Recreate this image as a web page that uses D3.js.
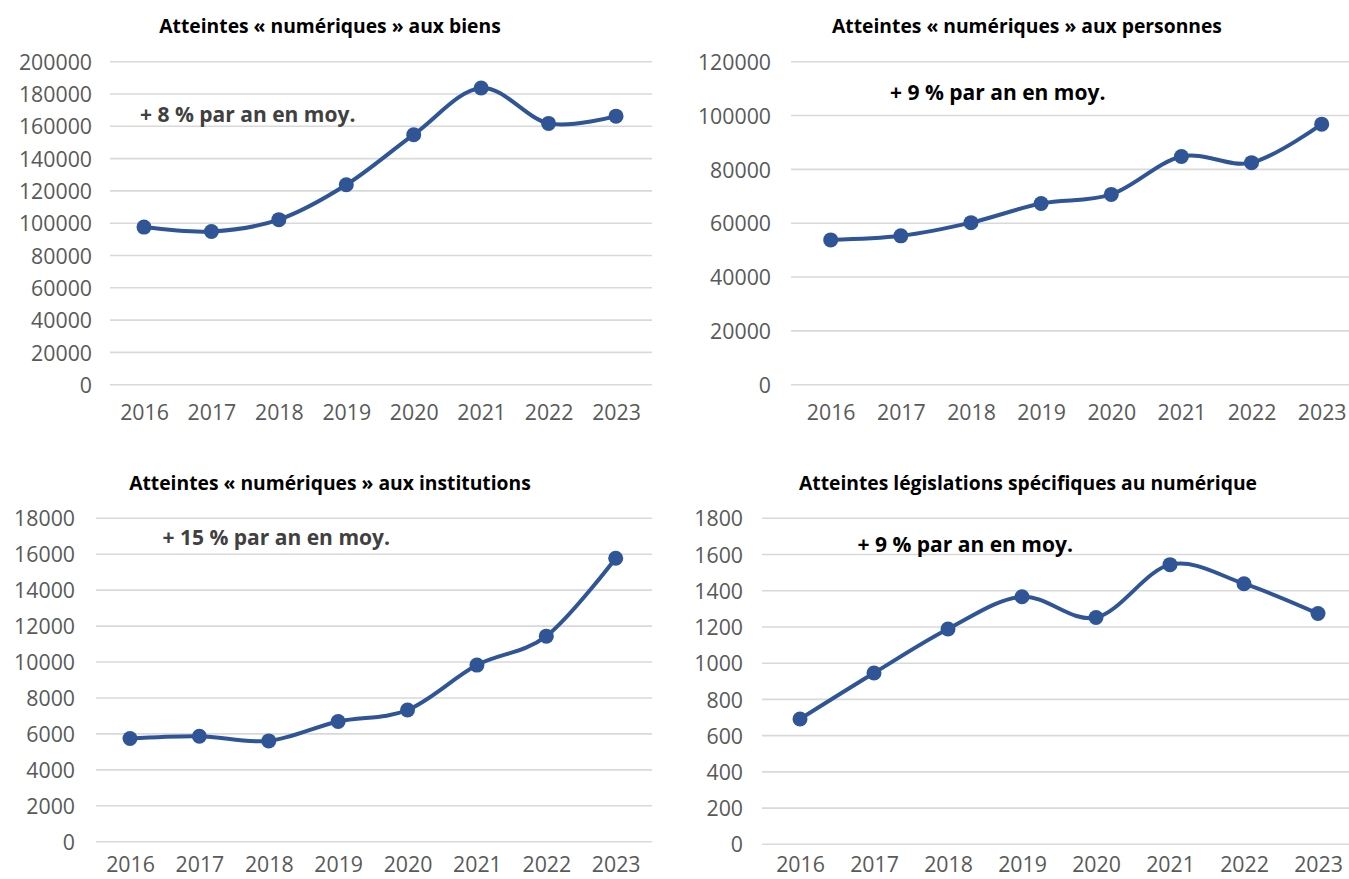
<!DOCTYPE html>
<html lang="fr">
<head>
<meta charset="utf-8">
<title>Atteintes numériques 2016-2023</title>
<script src="https://cdn.jsdelivr.net/npm/d3@7"></script>
<style>
  html, body { margin: 0; padding: 0; background: #ffffff; }
  svg { display: block; }
  .grid line { stroke: #d9d9d9; stroke-width: 1.6; }
  .tick-label { font-family: "Open Sans", sans-serif; font-size: 21.3px; fill: #595959; }
  .title { font-family: "Open Sans", sans-serif; font-weight: 700; font-size: 19.3px; fill: #000; }
  .note { font-family: "Open Sans", sans-serif; font-weight: 700; font-size: 21px; }
</style>
</head>
<body>
<svg id="chart" width="1349" height="879"></svg>
<script>
// Years shared by every panel
const years = ["2016", "2017", "2018", "2019", "2020", "2021", "2022", "2023"];

// Offences against property
const biensValues = [97600, 94900, 102200, 123800, 154800, 183700, 161800, 166300];
const biensTicks = [0, 20000, 40000, 60000, 80000, 100000, 120000, 140000, 160000, 180000, 200000];

// Offences against persons
const personnesValues = [53800, 55300, 60200, 67300, 70700, 84800, 82500, 96800];
const personnesTicks = [0, 20000, 40000, 60000, 80000, 100000, 120000];

// Offences against institutions
const institutionsValues = [5740, 5870, 5610, 6690, 7330, 9830, 11440, 15780];
const institutionsTicks = [0, 2000, 4000, 6000, 8000, 10000, 12000, 14000, 16000, 18000];

// Offences under digital-specific legislation
const legislationsValues = [692, 946, 1189, 1367, 1252, 1544, 1439, 1274];
const legislationsTicks = [0, 200, 400, 600, 800, 1000, 1200, 1400, 1600, 1800];

const panelTitles = [
  "Atteintes « numériques » aux biens",
  "Atteintes « numériques » aux personnes",
  "Atteintes « numériques » aux institutions",
  "Atteintes législations spécifiques au numérique"
];
const growthNotes = [
  "+ 8 % par an en moy.",
  "+ 9 % par an en moy.",
  "+ 15 % par an en moy.",
  "+ 9 % par an en moy."
];

const LINE_COLOR = "#2f5597";

// Layout of each small multiple
const panels = [
  { values: biensValues, ticks: biensTicks,
    gridX: [110, 652], pointX: [144, 616], yRange: [384.7, 61.7], labelRight: 92,
    xLabelY: 420, title: { x: 330, y: 33 }, note: { x: 140, y: 122, fill: "#404040" } },
  { values: personnesValues, ticks: personnesTicks,
    gridX: [791, 1360], pointX: [830.7, 1321.7], yRange: [384.7, 61.7], labelRight: 771,
    xLabelY: 420, title: { x: 1027, y: 33 }, note: { x: 890, y: 99.5, fill: "#000000" } },
  { values: institutionsValues, ticks: institutionsTicks,
    gridX: [96, 652], pointX: [130, 615.7], yRange: [841.7, 518.3], labelRight: 75,
    xLabelY: 872, title: { x: 330, y: 490 }, note: { x: 162.5, y: 545, fill: "#404040" } },
  { values: legislationsValues, ticks: legislationsTicks,
    gridX: [762, 1360], pointX: [800, 1318], yRange: [844.3, 518.3], labelRight: 743,
    xLabelY: 872, title: { x: 1028, y: 490 }, note: { x: 857.5, y: 551.5, fill: "#000000" } }
];

const svg = d3.select("#chart");

panels.forEach((p, i) => {
  const g = svg.append("g").attr("class", "panel");
  const yMax = d3.max(p.ticks);

  const x = d3.scalePoint().domain(years).range(p.pointX);
  const y = d3.scaleLinear().domain([0, yMax]).range(p.yRange);

  // Horizontal gridlines
  g.append("g").attr("class", "grid")
    .selectAll("line").data(p.ticks).join("line")
    .attr("x1", p.gridX[0]).attr("x2", p.gridX[1])
    .attr("y1", d => y(d)).attr("y2", d => y(d));

  // Y axis labels (no domain line, no tick marks)
  const yAxis = d3.axisLeft(y).tickValues(p.ticks).tickSize(0).tickPadding(0)
    .tickFormat(d3.format("d"));
  const yg = g.append("g").attr("transform", `translate(${p.labelRight},0)`).call(yAxis);
  yg.select(".domain").remove();
  yg.selectAll("text").attr("class", "tick-label").attr("font-family", null).attr("font-size", null)
    .attr("dy", "0.36em").attr("fill", null);

  // X axis labels
  const xAxis = d3.axisBottom(x).tickSize(0).tickPadding(0);
  const xg = g.append("g").attr("transform", `translate(0,${p.xLabelY})`).call(xAxis);
  xg.select(".domain").remove();
  xg.selectAll("text").attr("class", "tick-label").attr("font-family", null).attr("font-size", null)
    .attr("dy", 0).attr("y", 0).attr("fill", null);

  // Smoothed series line
  const line = d3.line()
    .x((d, k) => x(years[k]))
    .y(d => y(d))
    .curve(d3.curveCardinal.tension(0));
  g.append("path")
    .datum(p.values)
    .attr("d", line)
    .attr("fill", "none")
    .attr("stroke", LINE_COLOR)
    .attr("stroke-width", 4)
    .attr("stroke-linejoin", "round")
    .attr("stroke-linecap", "round");

  // Markers
  g.selectAll("circle.pt").data(p.values).join("circle")
    .attr("class", "pt")
    .attr("cx", (d, k) => x(years[k]))
    .attr("cy", d => y(d))
    .attr("r", 7.5)
    .attr("fill", LINE_COLOR);

  // Title
  g.append("text").attr("class", "title")
    .attr("x", p.title.x).attr("y", p.title.y)
    .attr("text-anchor", "middle")
    .text(panelTitles[i]);

  // Average growth note
  g.append("text").attr("class", "note")
    .attr("x", p.note.x).attr("y", p.note.y)
    .attr("fill", p.note.fill)
    .text(growthNotes[i]);
});
</script>
</body>
</html>
